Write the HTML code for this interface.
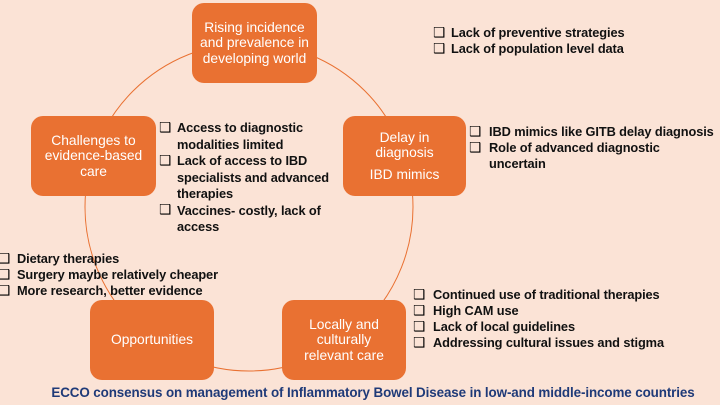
<!DOCTYPE html>
<html><head><meta charset="utf-8"><style>
body{margin:0;width:720px;height:405px;overflow:hidden;background:#fbe3d6;position:relative;font-family:"Liberation Sans","DejaVu Sans",sans-serif}
.b{position:absolute;width:125px;height:80px;background:#e97132;border-radius:12px;color:#fff;font-size:13.8px;line-height:15.5px;display:flex;flex-direction:column;align-items:center;justify-content:center;text-align:center}
.l{position:absolute;font-size:12.8px;font-weight:bold;color:#111;white-space:nowrap;line-height:16px;letter-spacing:-0.1px}
.g{position:absolute;font-size:13.5px;font-weight:bold;color:#000;font-family:"DejaVu Sans",sans-serif;line-height:16px}
</style></head><body>
<svg width="720" height="405" style="position:absolute;left:0;top:0"><circle cx="249" cy="207" r="164" fill="none" stroke="#e97132" stroke-width="1"/></svg>
<div class="b" style="left:192px;top:3px">Rising incidence<br>and prevalence in<br>developing world</div>
<div class="b" style="left:31px;top:116px">Challenges to<br>evidence-based<br>care</div>
<div class="b" style="left:343px;top:116px;width:123px"><div>Delay in<br>diagnosis</div><div style="margin-top:6px">IBD mimics</div></div>
<div class="b" style="left:90px;top:300px;width:124px">Opportunities</div>
<div class="b" style="left:282px;top:300px;width:124px">Locally and<br>culturally<br>relevant care</div>

<div class="g" style="left:433px;top:25px">❑<br>❑</div>
<div class="l" style="left:451px;top:25px">Lack of preventive strategies<br>Lack of population level data</div>

<div class="g" style="left:159px;top:120px">❑</div>
<div class="g" style="left:159px;top:153px">❑</div>
<div class="g" style="left:159px;top:202px">❑</div>
<div class="l" style="left:177px;top:120px;line-height:16.5px">Access to diagnostic<br>modalities limited<br>Lack of access to IBD<br>specialists and advanced<br>therapies<br>Vaccines- costly, lack of<br>access</div>

<div class="g" style="left:469px;top:124px">❑<br>❑</div>
<div class="l" style="left:489px;top:124px">IBD mimics like GITB delay diagnosis<br>Role of advanced diagnostic<br>uncertain</div>

<div class="g" style="left:-2px;top:251px">❑<br>❑<br>❑</div>
<div class="l" style="left:17px;top:251px">Dietary therapies<br>Surgery maybe relatively cheaper<br>More research, better evidence</div>

<div class="g" style="left:413px;top:287px">❑<br>❑<br>❑<br>❑</div>
<div class="l" style="left:433px;top:287px">Continued use of traditional therapies<br>High CAM use<br>Lack of local guidelines<br>Addressing cultural issues and stigma</div>

<div class="l" style="left:0;width:720px;text-align:center;top:385px;color:#1f3a78;font-size:13.4px;padding-left:26px;box-sizing:border-box">ECCO consensus on management of Inflammatory Bowel Disease in low-and middle-income countries</div>
</body></html>
